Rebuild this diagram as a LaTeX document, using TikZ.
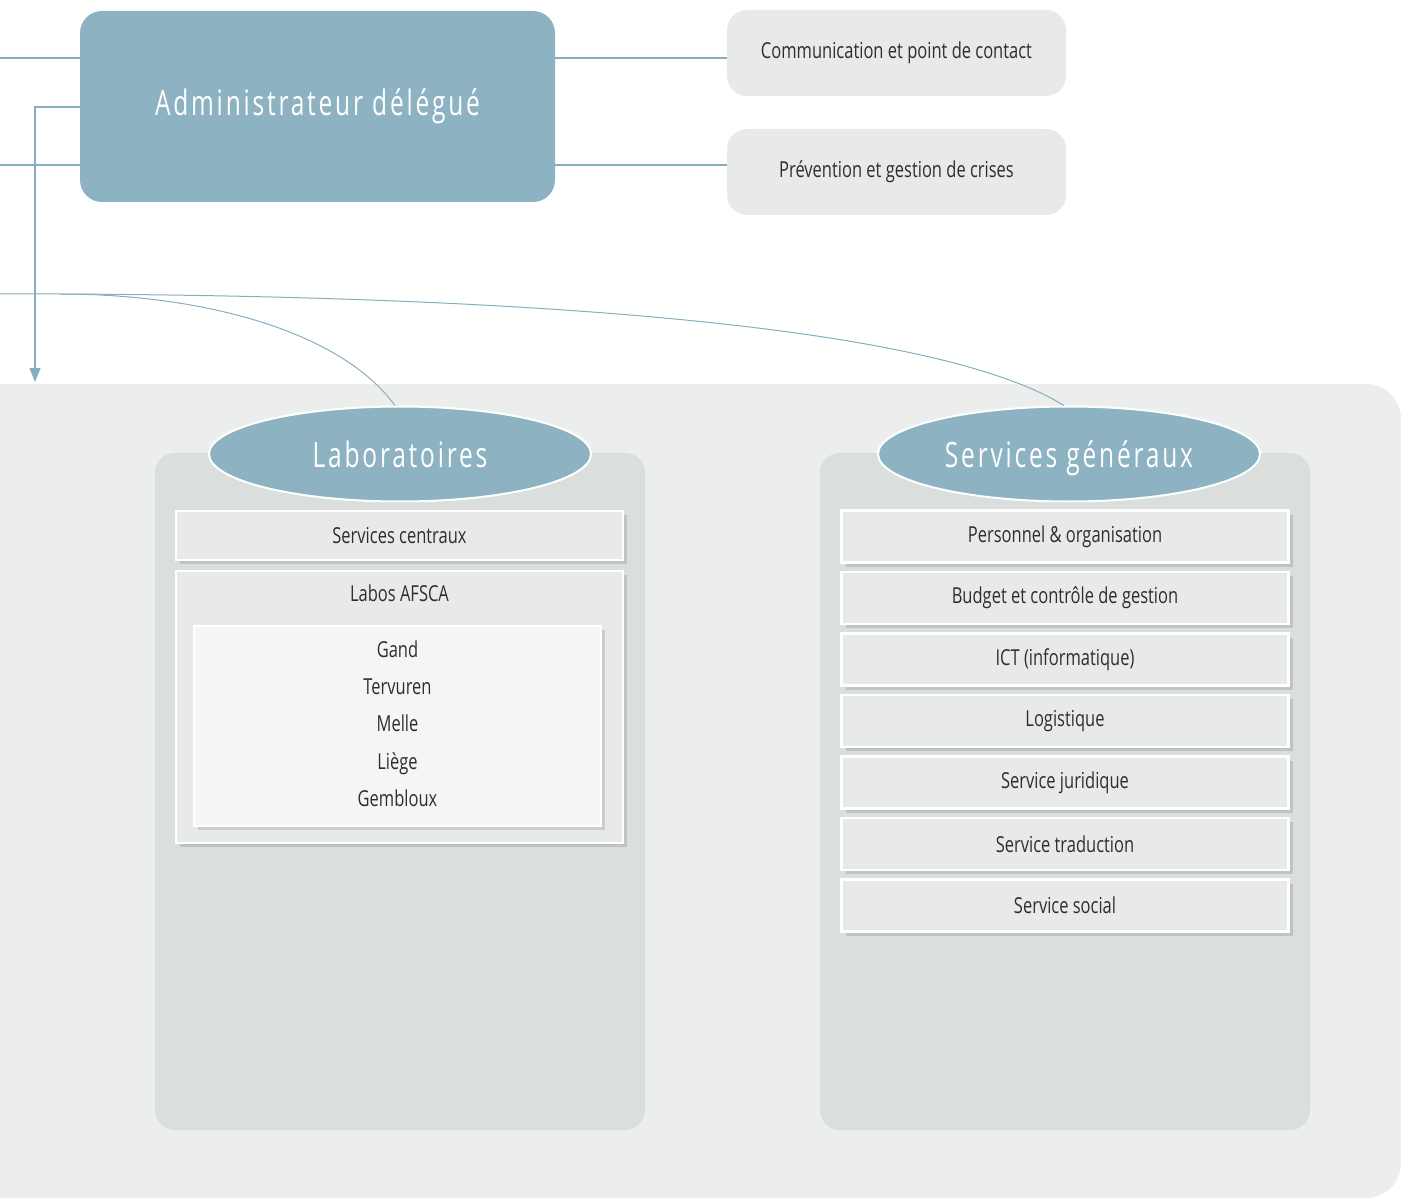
\documentclass[tikz,border=0pt]{standalone}
\usepackage{fontspec}
\setmainfont{Open Sans}[FakeStretch=0.75]
\newfontfamily\spacedfont{Open Sans}[FakeStretch=0.7,LetterSpace=8]
\usetikzlibrary{arrows.meta,shapes.geometric,shadows}
\definecolor{afscablue}{HTML}{8DB3C3}
\definecolor{linkblue}{HTML}{86AEBF}
\definecolor{bgfill}{HTML}{ECEEED}
\definecolor{panelfill}{HTML}{DADEDD}
\definecolor{boxfill}{HTML}{E8EAE9}
\definecolor{innerfill}{HTML}{F4F6F5}
\definecolor{textgrey}{HTML}{2E2E2E}
\tikzset{
	link/.style={draw=linkblue, line width=1.2pt},
	sidebox/.style={rectangle, rounded corners=20pt, fill=boxfill, minimum width=339pt, minimum height=86pt, text=textgrey, font=\fontsize{22}{26}\selectfont},
	headoval/.style={ellipse, fill=afscablue, draw=white, line width=2pt, minimum width=382pt, minimum height=95pt, text=white, text height=32pt, text depth=6pt, font=\spacedfont\fontsize{35}{40}\selectfont},
	entry/.style={rectangle, fill=boxfill, draw=white, line width=2.5pt, minimum width=447pt, text=textgrey, font=\fontsize{22}{26}\selectfont, drop shadow={shadow xshift=4pt, shadow yshift=-4pt, opacity=0.12, fill=black}},
	labtext/.style={text=textgrey, text height=16pt, text depth=5pt, font=\fontsize{22}{26}\selectfont}
}

\begin{document}
\begin{tikzpicture}[x=1pt,y=-1pt]
			%%%%% START %%%%%
			\useasboundingbox (0,0) rectangle (1403,1198);
			\begin{scope}
			\clip (0,0) rectangle (1403,1198);
			\fill[bgfill, rounded corners=35pt] (-50,384) rectangle (1401,1198);
			\end{scope}
			
			\fill[panelfill, rounded corners=20pt] (155,453) rectangle (645,1130);
			\fill[panelfill, rounded corners=20pt] (820,453) rectangle (1310,1130);
			
			\node[rectangle, rounded corners=22pt, fill=afscablue, minimum width=475pt, minimum height=191pt, text=white, font=\spacedfont\fontsize{35}{40}\selectfont] (admin) at (317.5,106.5) {\raisebox{9pt}{Administrateur délégué}};
			
			\node[sidebox] (comm) at (896.5,53) {Communication et point de contact};
			\node[sidebox] (prev) at (896.5,172) {Prévention et gestion de crises};
			
			\coordinate (w1) at (0,58);
			\coordinate (w2) at (0,165);
			\coordinate (w3) at (35,107);
			\coordinate (w4) at (0,294);
			\coordinate (fork) at (60,294);
			\coordinate (drop) at (35,382);
			
			\draw[link] (w1) -- (admin.west |- w1);
			\draw[link] (w2) -- (admin.west |- w2);
			\draw[link] (admin.east |- w1) -- (comm.west |- w1);
			\draw[link] (admin.east |- w2) -- (prev.west |- w2);
			\draw[link, -{Triangle[length=14pt,width=11pt]}] (admin.west |- w3) -- (w3) -- (drop);
			
			\node[headoval] (lab) at (400,454) {Laboratoires};
			\node[headoval] (sg) at (1069,454) {Services généraux};
			
			\draw[link, line width=1pt] (w4) -- (fork) .. controls (200,294) and (340,330) .. (lab.96);
			\draw[link, line width=1pt] (fork) .. controls (500,296) and (930,322) .. (sg.96);
			
			% Laboratoires
			\node[entry, minimum height=49pt] (central) at (399.5,535.5) {Services centraux};
			\node[entry, minimum height=272pt] (labos) at (399.5,707) {};
			\node[labtext] (afsca) at (399.5,596) {Labos AFSCA};
			\node[entry, fill=innerfill, line width=2pt, minimum width=407pt, minimum height=200pt] (sites) at (397.5,726) {};
			\foreach \site [count=\i] in {Gand, Tervuren, Melle, Liège, Gembloux}
				\node[labtext] (site\i) at (397.5,614.5+37.3*\i) {\site};
			
			% Services generaux
			\foreach \service [count=\i] in {Personnel \& organisation, Budget et contrôle de gestion, ICT (informatique), Logistique, Service juridique, Service traduction, Service social}
				\node[entry, minimum height=52pt] (serv\i) at (1065,475+61.5*\i) {\service};
			
			%%%%% END %%%%%
		\end{tikzpicture}
\end{document}
